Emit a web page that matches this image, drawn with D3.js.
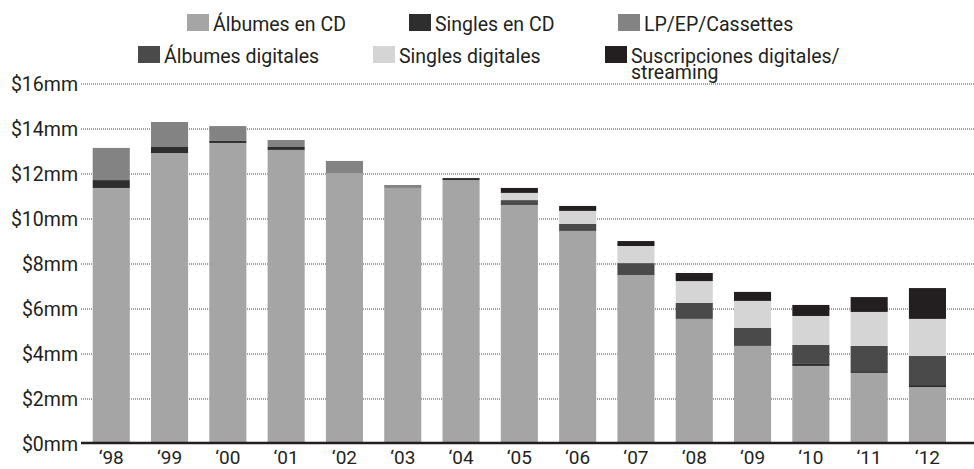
<!DOCTYPE html>
<html><head><meta charset="utf-8">
<script src="https://cdn.jsdelivr.net/npm/d3@7"></script>
<style>
body{margin:0;background:#fff;}
text{font-family:Roboto, "DejaVu Sans", sans-serif;fill:#231f20;}
</style></head>
<body><svg id="c" width="974" height="469"></svg>
<script>
const years = ["‘98","‘99","‘00","‘01","‘02","‘03","‘04","‘05","‘06","‘07","‘08","‘09","‘10","‘11","‘12"];
const seriesNames = ["Álbumes en CD","Singles en CD","LP/EP/Cassettes","Álbumes digitales","Singles digitales","Suscripciones digitales/streaming"];
const albumesCD     = [11.38,12.93,13.38,13.07,12.04,11.38,11.73,10.62,9.47,7.51,5.56,4.36,3.47,3.16,2.53];
const singlesCD     = [0.35,0.27,0.09,0.13,0.00,0.00,0.09,0.00,0.00,0.00,0.00,0.00,0.09,0.08,0.09];
const lpCassettes   = [1.43,1.11,0.66,0.31,0.54,0.13,0.00,0.00,0.00,0.00,0.00,0.00,0.00,0.00,0.00];
const albumesDig    = [0,0,0,0,0,0,0,0.22,0.31,0.53,0.71,0.80,0.84,1.12,1.29];
const singlesDig    = [0,0,0,0,0,0,0,0.32,0.58,0.76,0.97,1.20,1.29,1.51,1.65];
const suscripciones = [0,0,0,0,0,0,0,0.22,0.22,0.22,0.36,0.40,0.49,0.66,1.37];
const yTicks = [0,2,4,6,8,10,12,14,16];
const colors = ["#a5a5a5","#2e2e2e","#838383","#4a4a4a","#d5d5d5","#231f20"];

const keys = ["a","b","c","d","e","f"];
const cols = [albumesCD,singlesCD,lpCassettes,albumesDig,singlesDig,suscripciones];
const rows = years.map((y,i)=>{const o={year:y};keys.forEach((k,j)=>o[k]=cols[j][i]);return o;});

const svg = d3.select("#c");
const x = d3.scaleBand().domain(years).range([92.7,946]).paddingInner(0.364).paddingOuter(0);
const y = d3.scaleLinear().domain([0,16]).range([444,84]);

// gridlines
const g = svg.append("g");
g.selectAll("line.grid").data(yTicks.slice(1)).join("line")
 .attr("x1",81).attr("x2",974).attr("y1",d=>y(d)).attr("y2",d=>y(d))
 .attr("stroke","#444").attr("stroke-width",1).attr("stroke-dasharray","1,1");
g.selectAll("text.yl").data(yTicks).join("text")
 .attr("x",78).attr("y",d=>y(d)).attr("dy","0.35em").attr("text-anchor","end")
 .attr("font-size",19.5).text(d=>"$"+d+"mm");

const stack = d3.stack().keys(keys)(rows);
svg.append("g").selectAll("g").data(stack).join("g").attr("fill",(d,i)=>colors[i])
 .selectAll("rect").data(d=>d).join("rect")
 .attr("x",d=>x(d.data.year)).attr("width",x.bandwidth())
 .attr("y",d=>y(d[1])).attr("height",d=>Math.max(0,y(d[0])-y(d[1])));

// axis
svg.append("line").attr("x1",81).attr("x2",974).attr("y1",443).attr("y2",443)
 .attr("stroke","#231f20").attr("stroke-width",2.6);
svg.selectAll("text.xl").data(years).join("text")
 .attr("x",d=>x(d)+x.bandwidth()/2).attr("y",463.5).attr("text-anchor","middle")
 .attr("font-size",19).text(d=>d);

// legend
const legPos = [[187,14],[409,14],[618,14],[138,46],[373,46],[605,46]];
const leg = svg.append("g");
seriesNames.forEach((n,i)=>{
  const [lx,ly]=legPos[i];
  leg.append("rect").attr("x",lx).attr("y",ly).attr("width",22).attr("height",17).attr("fill",colors[i]);
  const t = leg.append("text").attr("x",lx+26).attr("y",ly+16.5).attr("font-size",19.5);
  if(i===5){
    t.append("tspan").attr("x",lx+26).text("Suscripciones digitales/");
    t.append("tspan").attr("x",lx+26).attr("dy",16).text("streaming");
  } else t.text(n);
});
</script></body></html>
